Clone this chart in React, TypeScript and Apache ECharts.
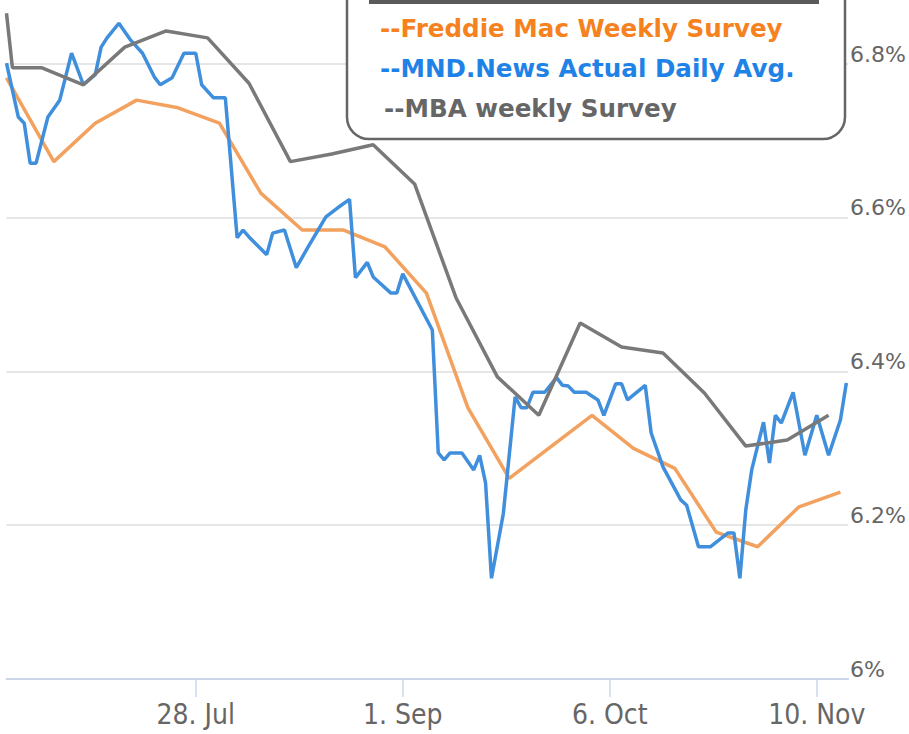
import React, { useEffect, useRef } from 'react';
import * as echarts from 'echarts';

// x values are days since Thu 26 Jun 2014
const xTickDays = [32, 67, 102, 137];
const xTickLabels = ['28. Jul', '1. Sep', '6. Oct', '10. Nov'];
const yTickValues = [6, 6.2, 6.4, 6.6, 6.8];
const yTickLabels = ['6%', '6.2%', '6.4%', '6.6%', '6.8%'];

const legendLabels = [
  '--Freddie Mac Weekly Survey',
  '--MND.News Actual Daily Avg.',
  '--MBA weekly Survey',
];

const mndDays = [
  0, 2, 3, 4, 5, 7, 9, 11, 13, 15, 16, 17, 19, 21, 23, 25, 26, 28, 30, 32, 33, 35, 37,
  39, 40, 41, 44, 45, 47, 49, 51, 54, 56, 58, 59, 61, 62, 65, 66, 67, 72, 73, 74, 75,
  77, 79, 80, 81, 82, 84, 86, 87, 88, 89, 91, 93, 94, 95, 96, 98, 100, 101, 103, 104,
  105, 108, 109, 111, 114, 115, 117, 119, 122, 123, 124, 125, 126, 128, 129, 130, 131,
  133, 135, 137, 139, 141, 142,
];
const mndRates = [
  6.801, 6.731, 6.723, 6.671, 6.671, 6.731, 6.753, 6.814, 6.773, 6.786, 6.822, 6.834,
  6.853, 6.831, 6.814, 6.783, 6.773, 6.782, 6.814, 6.814, 6.773, 6.756, 6.756,
  6.574, 6.584, 6.575, 6.552, 6.58, 6.584, 6.535, 6.562, 6.601, 6.613, 6.624, 6.522,
  6.542, 6.523, 6.502, 6.502, 6.527, 6.454, 6.294, 6.285, 6.294,
  6.294, 6.272, 6.291, 6.255, 6.131, 6.215, 6.367, 6.353, 6.353, 6.373, 6.373, 6.392,
  6.382, 6.381, 6.373, 6.373, 6.363, 6.343, 6.384, 6.384,
  6.363, 6.382, 6.32, 6.276, 6.233, 6.226, 6.172, 6.172, 6.19, 6.19, 6.131, 6.22,
  6.272, 6.334, 6.281, 6.343, 6.333,
  6.373, 6.291, 6.343, 6.291, 6.337, 6.385,
];

const freddieDays = [0, 8, 15, 22, 29, 36, 43, 50, 57, 64, 71, 78, 85, 92, 99, 106, 113, 120, 127, 134, 141];
const freddieRates = [
  6.782, 6.673, 6.723, 6.753, 6.743, 6.723, 6.632, 6.584, 6.584, 6.562, 6.502, 6.353,
  6.261, 6.302, 6.343, 6.3, 6.274, 6.191, 6.172, 6.224, 6.243,
];

const mbaDays = [0, 1, 6, 13, 20, 27, 34, 41, 48, 55, 62, 69, 76, 83, 90, 97, 104, 111, 118, 125, 132, 139];
const mbaRates = [
  6.866, 6.795, 6.795, 6.773, 6.822, 6.843, 6.834, 6.775, 6.673, 6.683, 6.695, 6.644,
  6.496, 6.393, 6.343, 6.463, 6.432, 6.424, 6.372, 6.303, 6.311, 6.343,
];

const zip = (xs: number[], ys: number[]) => xs.map((x, i) => [x, ys[i]]);

export default function App() {
  const ref = useRef<HTMLDivElement>(null);
  useEffect(() => {
    const chart = echarts.init(ref.current!, null, { renderer: 'svg' });
    const lineSeries = (name: string, data: number[][], color: string, z: number) => ({
      name,
      type: 'line',
      data,
      showSymbol: false,
      symbol: 'none',
      clip: false,
      z,
      lineStyle: { color, width: 3.5 },
      itemStyle: { color },
    });
    const legendFont = { fontSize: 24.6, fontWeight: 'bold', fontFamily: "'DejaVu Sans', sans-serif", align: 'left', verticalAlign: 'middle' };
    chart.setOption({
      animation: false,
      backgroundColor: '#ffffff',
      grid: { left: 6.5, right: 55.5, top: 64, bottom: 55 },
      xAxis: {
        type: 'value',
        min: 0,
        max: 142.3,
        splitLine: { show: false },
        axisLine: { show: true, onZero: false, lineStyle: { color: '#ccd6eb', width: 2 } },
        axisTick: { show: true, length: 18, customValues: xTickDays, lineStyle: { color: '#ccd6eb', width: 1.5 } },
        axisLabel: {
          customValues: xTickDays,
          formatter: (v: number) => {
            const i = xTickDays.indexOf(Math.round(v));
            return i >= 0 ? xTickLabels[i] : '';
          },
          color: '#666666',
          fontSize: 28,
          lineHeight: 32,
          fontFamily: "'Liberation Sans Narrow', 'DejaVu Sans Condensed', sans-serif",
          margin: 19,
        },
      },
      yAxis: {
        type: 'value',
        position: 'right',
        min: 6,
        max: 6.8,
        interval: 0.2,
        axisLine: { show: false },
        axisTick: { show: false },
        splitLine: { show: true, showMinLine: false, lineStyle: { color: '#e6e6e6', width: 2 } },
        axisLabel: {
          formatter: (v: number) => {
            const i = yTickValues.findIndex((t) => Math.abs(t - v) < 1e-6);
            return i >= 0 ? yTickLabels[i] : '';
          },
          color: '#666666',
          fontSize: 22,
          lineHeight: 20,
          verticalAlign: 'bottom',
          fontFamily: "'DejaVu Sans', sans-serif",
          margin: 2,
        },
      },
      series: [
        lineSeries('Freddie Mac Weekly Survey', zip(freddieDays, freddieRates), '#f2a15e', 2),
        lineSeries('MND.News Actual Daily Avg.', zip(mndDays, mndRates), '#3f8fdd', 3),
        lineSeries('MBA weekly Survey', zip(mbaDays, mbaRates), '#797979', 4),
      ],
      graphic: [
        {
          type: 'rect',
          z: 100,
          shape: { x: 347, y: -40, width: 498, height: 179, r: 22 },
          style: { fill: '#ffffff', stroke: '#666666', lineWidth: 2.5 },
        },
        {
          type: 'rect',
          z: 101,
          shape: { x: 369, y: 0, width: 450, height: 4 },
          style: { fill: '#5a5a5a' },
        },
        {
          type: 'text',
          z: 101,
          x: 380,
          y: 28,
          style: { text: legendLabels[0], fill: '#f5821f', ...legendFont },
        },
        {
          type: 'text',
          z: 101,
          x: 380,
          y: 68,
          style: { text: legendLabels[1], fill: '#1f82e6', ...legendFont },
        },
        {
          type: 'text',
          z: 101,
          x: 384,
          y: 108,
          style: { text: legendLabels[2], fill: '#666666', ...legendFont },
        },
      ],
    });
    return () => chart.dispose();
  }, []);
  return (
    <div
      ref={ref}
      style={{ position: 'fixed', left: 0, top: 0, width: 909, height: 734, background: '#fff' }}
    />
  );
}
